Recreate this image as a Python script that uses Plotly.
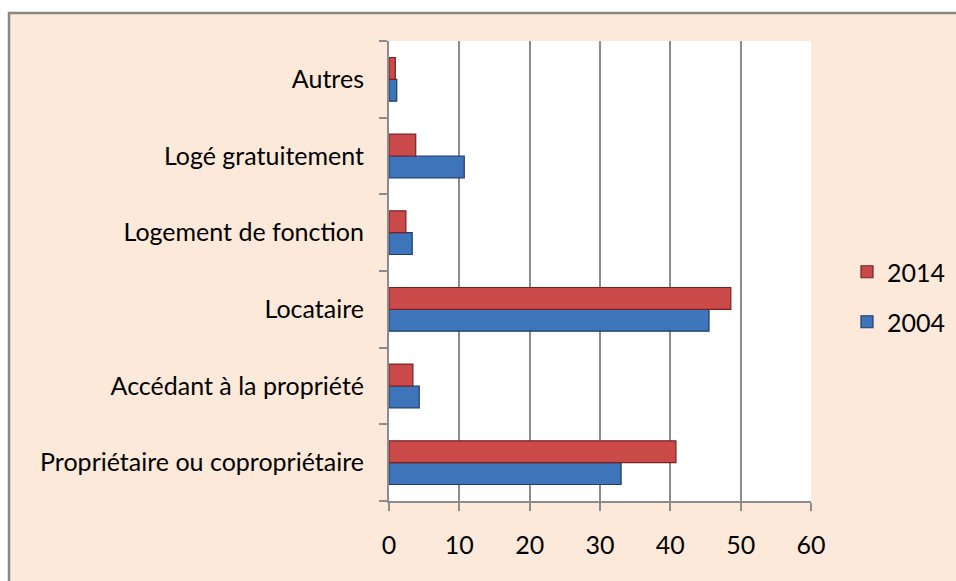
import plotly.graph_objects as go

categories = ["Propriétaire ou copropriétaire", "Accédant à la propriété", "Locataire",
              "Logement de fonction", "Logé gratuitement", "Autres"]
values_2004 = [33.0, 4.3, 45.5, 3.3, 10.7, 1.1]
values_2014 = [40.8, 3.4, 48.6, 2.4, 3.8, 0.9]
x_ticks = [0, 10, 20, 30, 40, 50, 60]

W, H = 956, 581
ML, MR, MT, MB = 389, 145, 41, 80
PW, PH = W - ML - MR, H - MT - MB

def px_x(p):  # screen px -> paper
    return (p - ML) / PW

def px_y(p):
    return (H - MB - p) / PH

FONT = "Lato, 'Open Sans', sans-serif"
GRID = "#8c8c8c"
BG = "#FDE9D9"

fig = go.Figure()
fig.add_trace(go.Bar(
    y=categories, x=values_2004, name="2004", orientation="h",
    marker=dict(color="#3D74BA", line=dict(color="#1F3F6A", width=1.2)),
    legend="legend2",
))
fig.add_trace(go.Bar(
    y=categories, x=values_2014, name="2014", orientation="h",
    marker=dict(color="#C94A48", line=dict(color="#7A2220", width=1.2)),
    legend="legend",
))

shapes = [
    dict(type="rect", xref="paper", yref="paper", x0=px_x(-5), x1=px_x(9), y0=px_y(620), y1=px_y(-5),
         fillcolor="white", line=dict(width=0), layer="below"),
    dict(type="rect", xref="paper", yref="paper", x0=px_x(-5), x1=px_x(980), y0=px_y(12), y1=px_y(-5),
         fillcolor="white", line=dict(width=0), layer="below"),
    dict(type="line", xref="paper", yref="paper", x0=px_x(9), x1=px_x(9), y0=px_y(12), y1=px_y(620),
         line=dict(color="#888888", width=2.5)),
    dict(type="line", xref="paper", yref="paper", x0=px_x(8), x1=px_x(980), y0=px_y(13), y1=px_y(13),
         line=dict(color="#888888", width=2.5)),
]

fig.update_layout(
    width=W, height=H,
    margin=dict(l=ML, r=MR, t=MT, b=MB, pad=0, autoexpand=False),
    paper_bgcolor=BG, plot_bgcolor="white",
    font=dict(family=FONT, size=25, color="#000000"),
    barmode="group", bargap=0.43, bargroupgap=0,
    shapes=shapes,
    legend=dict(x=px_x(847), y=px_y(272), xanchor="left", yanchor="middle",
                bgcolor="rgba(0,0,0,0)", font=dict(size=25)),
    legend2=dict(x=px_x(847), y=px_y(322), xanchor="left", yanchor="middle",
                 bgcolor="rgba(0,0,0,0)", font=dict(size=25)),
    xaxis=dict(range=[0, 60], tickvals=x_ticks, ticktext=[str(v) for v in x_ticks],
               showgrid=True, gridcolor=GRID, gridwidth=1.5, zeroline=False,
               showline=True, linecolor=GRID, linewidth=2,
               ticks="outside", ticklen=8, tickcolor=GRID, tickwidth=2,
               ticklabelstandoff=13),
    yaxis=dict(categoryorder="array", categoryarray=categories,
               showgrid=False, zeroline=False,
               showline=True, linecolor=GRID, linewidth=2,
               ticks="outside", ticklen=8, tickcolor=GRID, tickwidth=2,
               tickson="boundaries", ticklabelstandoff=18),
    showlegend=True,
)

fig.write_html(
    "out.html",
    config={"displayModeBar": False},
    post_script="document.body.style.margin='0';document.body.style.overflow='hidden';",
)
